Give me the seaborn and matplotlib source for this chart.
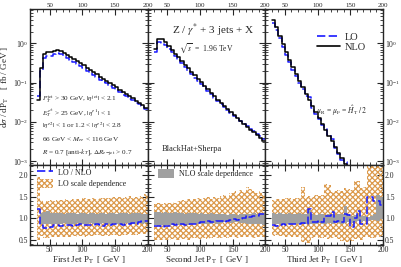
import matplotlib
matplotlib.use("Agg")
import matplotlib.pyplot as plt
import matplotlib.patches as mpatches
from matplotlib.lines import Line2D
from matplotlib.ticker import MultipleLocator, LogLocator, NullFormatter
import numpy as np
import pandas as pd
import seaborn as sns

# bin edges in GeV (5 GeV bins from 30 to 200)
bin_edges = [30, 35, 40, 45, 50, 55, 60, 65, 70, 75, 80, 85, 90, 95, 100, 105, 110,
             115, 120, 125, 130, 135, 140, 145, 150, 155, 160, 165, 170, 175, 180,
             185, 190, 195, 200]

# NLO cross sections, fb / GeV
nlo_first = [0.037, 0.24, 0.55, 0.60, 0.62, 0.65, 0.68, 0.63, 0.57, 0.51, 0.45, 0.40,
             0.35, 0.31, 0.275, 0.24, 0.21, 0.185, 0.163, 0.143, 0.126, 0.111, 0.098,
             0.086, 0.076, 0.066, 0.058, 0.051, 0.045, 0.040, 0.035, 0.031, 0.027, 0.023]
nlo_second = [0.73, 1.30, 1.29, 1.10, 0.87, 0.69, 0.55, 0.44, 0.355, 0.29, 0.234, 0.19,
              0.155, 0.126, 0.102, 0.083, 0.068, 0.055, 0.045, 0.037, 0.031, 0.0257,
              0.0214, 0.0178, 0.0148, 0.0126, 0.0105, 0.0089, 0.0074, 0.0063, 0.0054,
              0.0046, 0.0039, 0.0033]
nlo_third = [3.9, 2.63, 1.58, 0.955, 0.60, 0.38, 0.25, 0.166, 0.112, 0.076, 0.052, 0.036,
             0.025, 0.0178, 0.0126, 0.0089, 0.0063, 0.0045, 0.0032, 0.0023, 0.00166,
             0.0012, 0.00087, 0.00063, 0.00047, 0.00035, 0.00026, 0.0002, 0.000155,
             0.00012, 0.000093, 0.000074, 0.000059, 0.000047]

# LO / NLO ratio
ratio_first = [1.22, 0.85, 0.78, 0.78, 0.79, 0.84, 0.84, 0.83, 0.85, 0.84, 0.84, 0.83,
               0.85, 0.86, 0.84, 0.85, 0.84, 0.85, 0.86, 0.84, 0.83, 0.86, 0.85, 0.87,
               0.86, 0.87, 0.85, 0.88, 0.86, 0.90, 0.88, 0.91, 0.95, 0.93]
ratio_second = [0.82, 0.82, 0.81, 0.83, 0.82, 0.86, 0.85, 0.86, 0.87, 0.85, 0.86, 0.87,
                0.86, 0.90, 0.92, 0.91, 0.93, 0.92, 0.91, 0.94, 0.93, 0.92, 0.95, 0.96,
                0.98, 0.97, 0.99, 1.00, 1.05, 1.04, 1.06, 1.05, 1.10, 1.11]
ratio_third = [0.84, 0.83, 0.85, 0.86, 0.85, 0.87, 0.86, 0.88, 0.87, 0.89, 0.88, 1.22,
               0.92, 0.91, 0.93, 0.92, 1.05, 1.06, 1.15, 0.92, 0.93, 0.91, 1.10, 1.08,
               0.80, 1.00, 1.18, 0.87, 0.88, 1.49, 1.50, 1.41, 1.40, 1.30]

# NLO scale dependence band (relative to NLO)
nlo_band_lo_first = [np.nan, 0.86, 0.87, 0.88, 0.88, 0.87, 0.88, 0.87, 0.89, 0.88, 0.87,
                     0.88, 0.89, 0.88, 0.87, 0.88, 0.89, 0.88, 0.87, 0.88, 0.89, 0.88,
                     0.87, 0.89, 0.88, 0.87, 0.88, 0.89, 0.88, 0.87, 0.88, 0.89, 0.88, 0.90]
nlo_band_hi_first = [np.nan, 1.12, 1.14, 1.18, 1.13, 1.12, 1.13, 1.12, 1.11, 1.12, 1.13,
                     1.12, 1.11, 1.12, 1.13, 1.11, 1.12, 1.12, 1.11, 1.13, 1.12, 1.11,
                     1.12, 1.13, 1.11, 1.12, 1.13, 1.12, 1.11, 1.12, 1.13, 1.12, 1.11, 1.10]
nlo_band_lo_second = [0.84, 0.83, 0.85, 0.84, 0.85, 0.84, 0.86, 0.85, 0.84, 0.86, 0.85,
                      0.86, 0.87, 0.86, 0.87, 0.88, 0.87, 0.88, 0.89, 0.88, 0.90, 0.91,
                      0.92, 0.90, 0.91, 0.92, 0.90, 0.89, 0.88, 0.87, 0.86, 0.87, 0.86, 0.85]
nlo_band_hi_second = [1.14, 1.15, 1.13, 1.14, 1.12, 1.13, 1.14, 1.12, 1.13, 1.11, 1.12,
                      1.13, 1.12, 1.11, 1.12, 1.10, 1.11, 1.12, 1.10, 1.11, 1.10, 1.09,
                      1.08, 1.10, 1.09, 1.08, 1.10, 1.09, 1.11, 1.10, 1.12, 1.11, 1.12, 1.13]
nlo_band_lo_third = [0.87, 0.86, 0.87, 0.88, 0.87, 0.86, 0.88, 0.87, 0.86, 0.88, 0.87,
                     0.86, 0.88, 0.87, 0.89, 0.88, 0.87, 0.89, 0.88, 0.90, 0.89, 0.88,
                     0.90, 0.91, 0.90, 0.92, 0.93, 0.92, 0.94, 0.95, 0.96, 0.97, 0.95, 0.98]
nlo_band_hi_third = [1.12, 1.11, 1.12, 1.10, 1.11, 1.12, 1.10, 1.11, 1.12, 1.10, 1.11,
                     1.20, 1.09, 1.08, 1.10, 1.09, 1.08, 1.10, 1.09, 1.08, 1.10, 1.09,
                     1.28, 1.10, 1.06, 1.08, 1.07, 1.06, 1.05, 1.04, 1.06, 1.10, 1.55, 1.50]

# LO scale dependence band (relative to NLO)
lo_band_lo_first = [0.50, 0.60, 0.55, 0.55, 0.56, 0.57, 0.56, 0.57, 0.58, 0.57, 0.58,
                    0.59, 0.58, 0.59, 0.58, 0.60, 0.59, 0.60, 0.61, 0.60, 0.59, 0.61,
                    0.60, 0.62, 0.61, 0.60, 0.62, 0.61, 0.63, 0.62, 0.61, 0.63, 0.64, 0.65]
lo_band_hi_first = [1.95, 1.42, 1.38, 1.40, 1.42, 1.41, 1.43, 1.42, 1.44, 1.43, 1.42,
                    1.45, 1.44, 1.43, 1.46, 1.45, 1.44, 1.47, 1.45, 1.46, 1.48, 1.46,
                    1.47, 1.49, 1.48, 1.50, 1.47, 1.49, 1.51, 1.48, 1.50, 1.52, 1.50, 1.56]
lo_band_lo_second = [0.50, 0.49, 0.50, 0.51, 0.50, 0.52, 0.51, 0.50, 0.52, 0.53, 0.51,
                     0.52, 0.54, 0.52, 0.53, 0.55, 0.53, 0.54, 0.56, 0.54, 0.55, 0.57,
                     0.55, 0.56, 0.58, 0.55, 0.57, 0.56, 0.58, 0.57, 0.55, 0.57, 0.56, 0.58]
lo_band_hi_second = [1.33, 1.35, 1.34, 1.36, 1.35, 1.37, 1.36, 1.40, 1.42, 1.41, 1.44,
                     1.42, 1.45, 1.47, 1.44, 1.46, 1.49, 1.45, 1.50, 1.48, 1.52, 1.55,
                     1.50, 1.58, 1.62, 1.56, 1.65, 1.60, 1.72, 1.68, 1.62, 1.58, 1.63, 1.55]
lo_band_lo_third = [0.60, 0.61, 0.59, 0.60, 0.58, 0.60, 0.57, 0.58, 0.56, 0.45, 0.42,
                    0.43, 0.55, 0.56, 0.54, 0.55, 0.57, 0.52, 0.55, 0.56, 0.53, 0.48,
                    0.46, 0.45, 0.47, 0.52, 0.55, 0.50, 0.56, 0.58, 0.55, 0.54, 0.57, 0.60]
lo_band_hi_third = [1.42, 1.44, 1.45, 1.44, 1.46, 1.47, 1.45, 1.48, 1.47, 1.72, 1.50,
                    1.52, 1.50, 1.53, 1.51, 1.55, 1.80, 1.78, 1.60, 1.62, 1.66, 1.63,
                    1.70, 1.68, 1.65, 1.87, 1.85, 1.70, 1.72, 2.20, 2.22, 2.20, 2.21, 2.19]

x_labels = ["First Jet P$_{\\rm T}$  [ GeV ]", "Second Jet P$_{\\rm T}$  [ GeV ]",
            "Third Jet P$_{\\rm T}$  [ GeV ]"]

BLUE = "#1a1aff"
ORANGE = "#dc9a4c"
GRAY = "#a0a0a0"
HATCH = "xxxxxx"

sns.set_style("ticks")
plt.rcParams["font.family"] = ["Liberation Serif", "DejaVu Serif"]
plt.rcParams["mathtext.fontset"] = "stix"
plt.rcParams["hatch.linewidth"] = 0.9

edges = np.array(bin_edges, dtype=float)
centers = (edges[:-1] + edges[1:]) / 2


def draw_hist(ax, values, **kw):
    df = pd.DataFrame({"pt": centers, "w": np.asarray(values, dtype=float)})
    sns.histplot(data=df, x="pt", weights="w", bins=bin_edges, element="step",
                 fill=False, ax=ax, **kw)


def draw_band(ax, lo, hi, **kw):
    lo = np.append(lo, lo[-1])
    hi = np.append(hi, hi[-1])
    ax.fill_between(edges, lo, hi, step="post", **kw)


fig = plt.figure(figsize=(4.02, 2.67), dpi=100)
gs = fig.add_gridspec(2, 3, height_ratios=[156, 80], wspace=0, hspace=0,
                      left=0.0746, right=0.9527, top=0.966, bottom=0.0824)

panels = [
    (nlo_first, ratio_first, nlo_band_lo_first, nlo_band_hi_first, lo_band_lo_first, lo_band_hi_first),
    (nlo_second, ratio_second, nlo_band_lo_second, nlo_band_hi_second, lo_band_lo_second, lo_band_hi_second),
    (nlo_third, ratio_third, nlo_band_lo_third, nlo_band_hi_third, lo_band_lo_third, lo_band_hi_third),
]

top_axes, bot_axes = [], []
for i, (nlo, ratio, nb_lo, nb_hi, lb_lo, lb_hi) in enumerate(panels):
    ax = fig.add_subplot(gs[0, i])
    rx = fig.add_subplot(gs[1, i])
    top_axes.append(ax)
    bot_axes.append(rx)

    nlo = np.array(nlo)
    ratio = np.array(ratio)
    lo = nlo * ratio

    draw_hist(ax, lo, color=BLUE, linewidth=1.1, linestyle=(0, (5, 2)))
    draw_hist(ax, nlo, color="black", linewidth=1.1)
    ax.set_yscale("log")
    ax.set_ylim(8e-4, 7.5)

    draw_band(rx, lb_lo, lb_hi, facecolor="none", edgecolor=ORANGE, hatch=HATCH,
              linewidth=0)
    draw_band(rx, nb_lo, nb_hi, facecolor=GRAY, edgecolor="none", linewidth=0)
    draw_hist(rx, ratio, color=BLUE, linewidth=1.1, linestyle=(0, (5, 2)))
    rx.set_ylim(0.385, 2.23)

    for a in (ax, rx):
        a.set_xlim(20, 200)
        a.xaxis.set_major_locator(MultipleLocator(50))
        a.xaxis.set_minor_locator(MultipleLocator(10))
        a.tick_params(which="both", direction="in", top=True, right=True,
                      labelsize=5.5, pad=1.5)
        a.tick_params(which="major", length=4, width=0.8)
        a.tick_params(which="minor", length=2, width=0.6)
        a.set_ylabel("")
        a.set_xlabel("")
        for s in a.spines.values():
            s.set_linewidth(1.0)

    ax.yaxis.set_major_locator(LogLocator(base=10, numticks=10))
    ax.yaxis.set_minor_locator(LogLocator(base=10, subs=np.arange(2, 10), numticks=20))
    ax.yaxis.set_minor_formatter(NullFormatter())
    ax.tick_params(labeltop=True, labelbottom=False)
    ax.tick_params(axis="x", labelsize=5, pad=1)
    rx.yaxis.set_major_locator(MultipleLocator(0.5))
    rx.yaxis.set_minor_locator(MultipleLocator(0.1))
    rx.tick_params(axis="x", pad=1)
    rx.set_xlabel(x_labels[i], fontsize=6.5, labelpad=0)

    left_lab = i == 0
    right_lab = i == 2
    ax.tick_params(labelleft=left_lab, labelright=right_lab)
    rx.tick_params(labelleft=left_lab, labelright=right_lab)

top_axes[0].set_ylabel("d$\\sigma$ / dP$_{\\rm T}$    [ fb / GeV ]", fontsize=6.5, labelpad=1)

# cuts text
a0 = top_axes[0]
cut_lines = [
    "$P_T^{\\rm jet}$ > 30 GeV, $|\\eta^{\\rm jet}|$ < 2.1",
    "$E_T^{e^{\\pm}}$ > 25 GeV, $|\\eta^{e1}|$ < 1",
    "$|\\eta^{e2}|$ < 1 or 1.2 < $|\\eta^{e2}|$ < 2.8",
    "66 GeV < $M_{ee}$ < 116 GeV",
    "$R$ = 0.7 [anti-$k_T$], $\\Delta R_{e\\mathrm{-jet}}$ > 0.7",
]
for k, t in enumerate(cut_lines):
    a0.text(0.10, 0.42 - k * 0.085, t, transform=a0.transAxes, fontsize=5.2,
            va="center", ha="left")

a1 = top_axes[1]
a1.text(0.56, 0.865, "Z / $\\gamma^{*}$ + 3 jets + X", transform=a1.transAxes,
        fontsize=8, ha="center", va="center")
a1.text(0.50, 0.75, "$\\sqrt{s}$  =  1.96 TeV", transform=a1.transAxes,
        fontsize=5.5, ha="center", va="center")
a1.text(0.12, 0.10, "BlackHat+Sherpa", transform=a1.transAxes, fontsize=6,
        ha="left", va="center")

a2 = top_axes[2]
a2.legend(handles=[Line2D([], [], color=BLUE, lw=1.2, linestyle=(0, (5, 2))),
                   Line2D([], [], color="black", lw=1.2)],
          labels=["LO", "NLO"], loc="upper left", bbox_to_anchor=(0.44, 0.85),
          frameon=False, fontsize=7.5, handlelength=2.2, handletextpad=0.5,
          labelspacing=0.1, borderaxespad=0, borderpad=0)
a2.text(0.43, 0.35, "$\\mu_{\\rm R}$ = $\\mu_{\\rm F}$ = $\\hat{H}_{\\rm T}\\,/\\,2$",
        transform=a2.transAxes, fontsize=5.5, ha="left", va="center")

r0 = bot_axes[0]
r0.legend(handles=[Line2D([], [], color=BLUE, lw=1.2, linestyle=(0, (5, 2))),
                   mpatches.Patch(facecolor="none", edgecolor=ORANGE, hatch=HATCH,
                                  linewidth=0)],
          labels=["LO / NLO", "LO scale dependence"], loc="upper left",
          bbox_to_anchor=(0.06, 0.97), frameon=False, fontsize=5.8,
          handlelength=2.0, handleheight=1.3, handletextpad=0.6, labelspacing=0.3,
          borderaxespad=0, borderpad=0)

r1 = bot_axes[1]
r1.legend(handles=[mpatches.Patch(facecolor=GRAY, edgecolor="none")],
          labels=["NLO scale dependence"], loc="upper left",
          bbox_to_anchor=(0.09, 0.95), frameon=False, fontsize=5.8,
          handlelength=2.0, handleheight=1.4, handletextpad=0.6,
          borderaxespad=0, borderpad=0)

fig.savefig("out.png", dpi=100)
plt.close(fig)
